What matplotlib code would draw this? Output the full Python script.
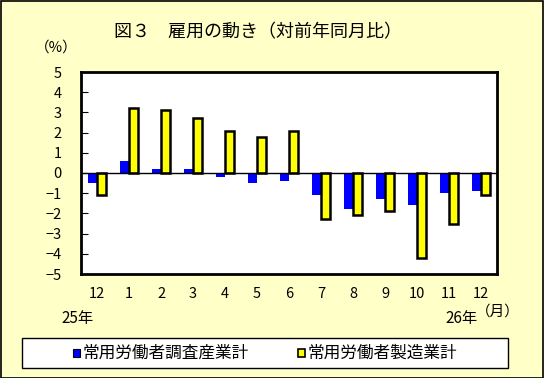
import numpy as np
import matplotlib
matplotlib.use("Agg")
import matplotlib.pyplot as plt
from matplotlib.patches import Rectangle

plt.rcParams['font.family'] = ['Noto Sans CJK JP', 'DejaVu Sans']

months = ['12', '1', '2', '3', '4', '5', '6', '7', '8', '9', '10', '11', '12']
all_industries = [-0.5, 0.6, 0.2, 0.2, -0.2, -0.5, -0.4, -1.1, -1.8, -1.3, -1.6, -1.0, -0.9]
manufacturing = [-1.1, 3.2, 3.1, 2.7, 2.1, 1.8, 2.1, -2.3, -2.1, -1.9, -4.2, -2.5, -1.1]
labels = ['常用労働者調査産業計', '常用労働者製造業計']

bg = '#FFFFC8'
fig = plt.figure(figsize=(5.44, 3.78), dpi=100, facecolor=bg)
W, H = 544, 378
ax = fig.add_axes([81 / W, 1 - 274 / H, 416 / W, 202 / H])

x = np.arange(len(months))
w = 0.28
b1 = ax.bar(x - w / 2, all_industries, w, color='#0000FF', edgecolor='none')
b2 = ax.bar(x + w / 2, manufacturing, w, color='#FFFF00', edgecolor='black', linewidth=1.8)

ax.axhline(0, color='black', linewidth=1)
ax.set_xlim(-0.5, len(months) - 0.5)
ax.set_ylim(-5, 5)
ax.set_yticks(range(-5, 6))
ax.set_xticks(x)
ax.set_xticklabels(months)
ax.tick_params(axis='y', direction='in', length=5, labelsize=10.5, pad=14)
ax.tick_params(axis='x', length=0, labelsize=10.5, pad=9)
for s in ax.spines.values():
    s.set_linewidth(2)

fig.text(258 / W, 1 - 32 / H, '図３　雇用の動き（対前年同月比）', ha='center', va='center', fontsize=13)
fig.text(56 / W, 1 - 48 / H, '（%）', ha='center', va='center', fontsize=10.5)
fig.text(78 / W, 1 - 319 / H, '25年', ha='center', va='center', fontsize=11)
fig.text(462 / W, 1 - 319 / H, '26年', ha='center', va='center', fontsize=11)
fig.text(498 / W, 1 - 312 / H, '（月）', ha='center', va='center', fontsize=10.5)

# legend box
fig.patches.append(Rectangle((22 / W, 1 - 368 / H), 486 / W, 30 / H, transform=fig.transFigure,
                             facecolor='white', edgecolor='black', linewidth=1))
fig.patches.append(Rectangle((73 / W, 1 - 357 / H), 7 / W, 8 / H, transform=fig.transFigure,
                             facecolor='#0000FF', edgecolor='black', linewidth=0.8))
fig.patches.append(Rectangle((298 / W, 1 - 357 / H), 7 / W, 8 / H, transform=fig.transFigure,
                             facecolor='#FFFF00', edgecolor='black', linewidth=1.2))
fig.text(83 / W, 1 - 353 / H, labels[0], ha='left', va='center', fontsize=12)
fig.text(308 / W, 1 - 353 / H, labels[1], ha='left', va='center', fontsize=12)

# outer border
fig.patches.append(Rectangle((0.5 / W, 0.5 / H), 1 - 1.5 / W, 1 - 1.5 / H, transform=fig.transFigure,
                             facecolor='none', edgecolor='black', linewidth=1.2))

fig.savefig('out.png', dpi=100, facecolor=bg)
